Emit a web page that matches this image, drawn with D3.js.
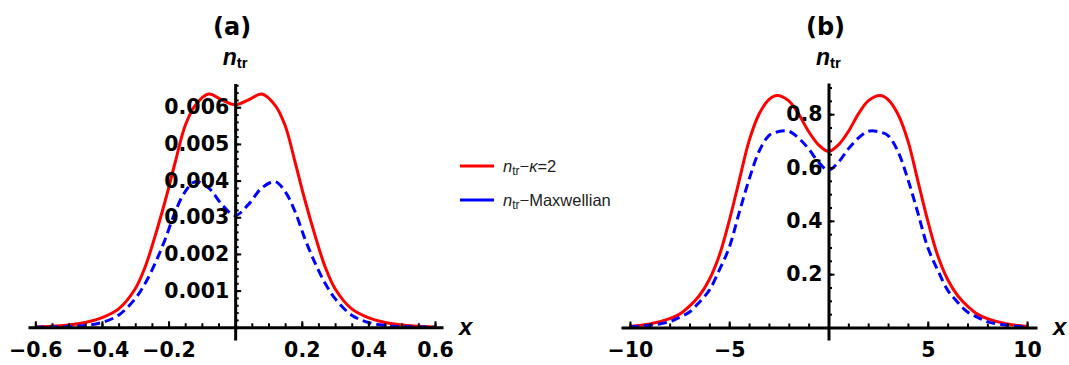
<!DOCTYPE html>
<html>
<head>
<meta charset="utf-8">
<script src="https://cdn.jsdelivr.net/npm/d3@7"></script>
<style>
body { margin: 0; background: #fff; }
.tick text { font-family: "DejaVu Sans"; font-weight: bold; font-size: 20.5px; fill: #000; }
</style>
</head>
<body>
<svg id="chart" width="1069" height="365"></svg>
<script>
"use strict";

// panel (a): values
var xsA = [-0.6, -0.55, -0.5, -0.45, -0.4, -0.35, -0.3, -0.27, -0.24, -0.21, -0.18, -0.15, -0.12, -0.08, -0.04,
           0, 0.04, 0.08, 0.12, 0.15, 0.18, 0.21, 0.24, 0.27, 0.3, 0.35, 0.4, 0.45, 0.5, 0.55, 0.6];
var kappaA = [0.00001, 0.00003, 0.00006, 0.00013, 0.00026, 0.0005, 0.00105, 0.00165, 0.0025, 0.00345, 0.0045, 0.0055, 0.00605, 0.00636, 0.0062,
              0.00607, 0.0062, 0.00636, 0.00605, 0.0055, 0.0045, 0.00345, 0.0025, 0.00165, 0.00105, 0.0005, 0.00026, 0.00013, 0.00006, 0.00003, 0.00001];
var maxwA = [0, 0.00001, 0.00002, 0.00005, 0.00013, 0.00033, 0.00078, 0.0012, 0.00175, 0.0024, 0.00315, 0.0037, 0.00397, 0.0038, 0.00335,
             0.00305, 0.00335, 0.0038, 0.00397, 0.0037, 0.00315, 0.0024, 0.00175, 0.0012, 0.00078, 0.00033, 0.00013, 0.00005, 0.00002, 0.00001, 0];

// panel (b)
var xsB = [-10, -9, -8, -7.5, -7, -6.5, -6, -5.5, -5, -4.5, -4, -3.5, -3, -2.6, -2, -1.5, -1, -0.5,
           0, 0.5, 1, 1.5, 2, 2.6, 3, 3.5, 4, 4.5, 5, 5.5, 6, 6.5, 7, 7.5, 8, 9, 10];
var kappaB = [0.004, 0.013, 0.033, 0.05, 0.08, 0.12, 0.18, 0.27, 0.4, 0.55, 0.7, 0.8, 0.855, 0.87, 0.85, 0.8, 0.735, 0.685,
              0.66, 0.685, 0.735, 0.8, 0.85, 0.87, 0.855, 0.8, 0.7, 0.55, 0.4, 0.27, 0.18, 0.12, 0.08, 0.05, 0.033, 0.013, 0.004];
var maxwB = [0.002, 0.008, 0.022, 0.038, 0.058, 0.095, 0.14, 0.215, 0.3, 0.43, 0.555, 0.66, 0.72, 0.733, 0.736, 0.71, 0.67, 0.62,
             0.59, 0.62, 0.67, 0.71, 0.736, 0.733, 0.72, 0.66, 0.555, 0.43, 0.3, 0.215, 0.14, 0.095, 0.058, 0.038, 0.022, 0.008, 0.002];

var xTicksA = [-0.6, -0.4, -0.2, 0.2, 0.4, 0.6];
var yTicksA = [0.001, 0.002, 0.003, 0.004, 0.005, 0.006];
var xTicksB = [-10, -5, 5, 10];
var yTicksB = [0.2, 0.4, 0.6, 0.8];

var legendLabels = ["\u03BA=2", "Maxwellian"];

var svg = d3.select("#chart");

function minus(s) { return s.replace("-", "\u2212"); }

function panel(cfg) {
    var x = d3.scaleLinear().domain(cfg.xDomain).range(cfg.xRange);
    var y = d3.scaleLinear().domain(cfg.yDomain).range(cfg.yRange);
    var g = svg.append("g");

    var line = d3.line()
        .curve(d3.curveCatmullRom)
        .x(function(d) { return x(d[0]); })
        .y(function(d) { return y(d[1]); });

    g.append("path")
        .datum(d3.zip(cfg.xs, cfg.kappa))
        .attr("d", line)
        .attr("fill", "none")
        .attr("stroke", "#ff0000")
        .attr("stroke-width", 3);

    g.append("path")
        .datum(d3.zip(cfg.xs, cfg.maxw))
        .attr("d", line)
        .attr("fill", "none")
        .attr("stroke", "#0000ff")
        .attr("stroke-width", 3)
        .attr("stroke-dasharray", "9,5");

    // minor ticks
    g.append("g")
        .attr("transform", "translate(0," + y(0) + ")")
        .call(d3.axisBottom(x).tickValues(cfg.xMinor).tickSizeInner(-4).tickSizeOuter(0).tickFormat(""))
        .call(function(a) { a.select(".domain").remove(); a.selectAll("line").attr("stroke-width", 2); });
    g.append("g")
        .attr("transform", "translate(" + x(0) + ",0)")
        .call(d3.axisLeft(y).tickValues(cfg.yMinor).tickSizeInner(-3.5).tickSizeOuter(0).tickFormat(""))
        .call(function(a) { a.select(".domain").remove(); a.selectAll("line").attr("stroke-width", 2); });

    // major ticks and axis lines
    g.append("g")
        .attr("transform", "translate(0," + y(0) + ")")
        .call(d3.axisBottom(x).tickValues(cfg.xTicks).tickSizeInner(-6).tickSizeOuter(0)
            .tickPadding(15).tickFormat(cfg.xFormat))
        .call(function(a) {
            a.select(".domain").attr("stroke-width", 3);
            a.selectAll("line").attr("stroke-width", 2);
        });
    g.append("g")
        .attr("transform", "translate(" + x(0) + ",0)")
        .call(d3.axisLeft(y).tickValues(cfg.yTicks).tickSizeInner(-6).tickSizeOuter(0)
            .tickPadding(6).tickFormat(cfg.yFormat))
        .call(function(a) {
            a.select(".domain").attr("stroke-width", 3);
            a.selectAll("line").attr("stroke-width", 2);
        });

    // title
    g.append("text")
        .attr("x", x(0) - 3)
        .attr("y", 35)
        .attr("text-anchor", "middle")
        .style("font-family", "DejaVu Sans")
        .style("font-weight", "bold")
        .style("font-size", "24px")
        .text(cfg.title);

    // y label n_tr
    var yl = g.append("text")
        .attr("x", x(0))
        .attr("y", 65)
        .attr("text-anchor", "middle")
        .style("font-family", "Liberation Sans")
        .style("font-weight", "bold");
    yl.append("tspan").style("font-style", "italic").style("font-size", "23px").text("n");
    yl.append("tspan").style("font-size", "15px").attr("dy", 3).text("tr");

    // x label
    g.append("text")
        .attr("x", cfg.xRange[1] + 16)
        .attr("y", y(0) + 8)
        .style("font-family", "Liberation Sans")
        .style("font-weight", "bold")
        .style("font-style", "italic")
        .style("font-size", "24px")
        .text("x");
}

panel({
    xs: xsA, kappa: kappaA, maxw: maxwA,
    xDomain: [-0.622, 0.624], xRange: [28, 443],
    yDomain: [-0.00035, 0.00665], yRange: [340.1, 83.4],
    xTicks: xTicksA, yTicks: yTicksA,
    xMinor: d3.range(-12, 13).map(function(i) { return i * 0.05; }),
    yMinor: d3.range(0, 34).map(function(i) { return i * 0.0002; }),
    xFormat: function(d) { return minus(d.toFixed(1)); },
    yFormat: function(d) { return d.toFixed(3); },
    title: "(a)"
});

panel({
    xs: xsB, kappa: kappaB, maxw: maxwB,
    xDomain: [-10.45, 10.5], xRange: [621, 1037],
    yDomain: [-0.047, 0.917], yRange: [340.0, 83.0],
    xTicks: xTicksB, yTicks: yTicksB,
    xMinor: d3.range(-10, 11),
    yMinor: d3.range(0, 19).map(function(i) { return i * 0.05; }),
    xFormat: function(d) { return minus(String(d)); },
    yFormat: function(d) { return d.toFixed(1); },
    title: "(b)"
});

// legend
var legend = svg.append("g");
var legendColors = ["#ff0000", "#0000ff"];
var legendY = [166, 200];
legendLabels.forEach(function(lab, i) {
    legend.append("line")
        .attr("x1", 460).attr("x2", 494)
        .attr("y1", legendY[i]).attr("y2", legendY[i])
        .attr("stroke", legendColors[i])
        .attr("stroke-width", 3);
    var t = legend.append("text")
        .attr("x", 503)
        .attr("y", legendY[i] + 6)
        .style("font-family", "Liberation Sans")
        .style("font-size", "16.5px")
        .style("fill", "#222");
    t.append("tspan").style("font-style", "italic").text("n");
    t.append("tspan").style("font-size", "12px").attr("dy", 3).text("tr");
    t.append("tspan").attr("dy", -3).text("\u2212");
    if (i === 0) {
        t.append("tspan").style("font-style", "italic").text("\u03BA");
        t.append("tspan").text("=2");
    } else {
        t.append("tspan").text(lab);
    }
});
</script>
</body>
</html>
